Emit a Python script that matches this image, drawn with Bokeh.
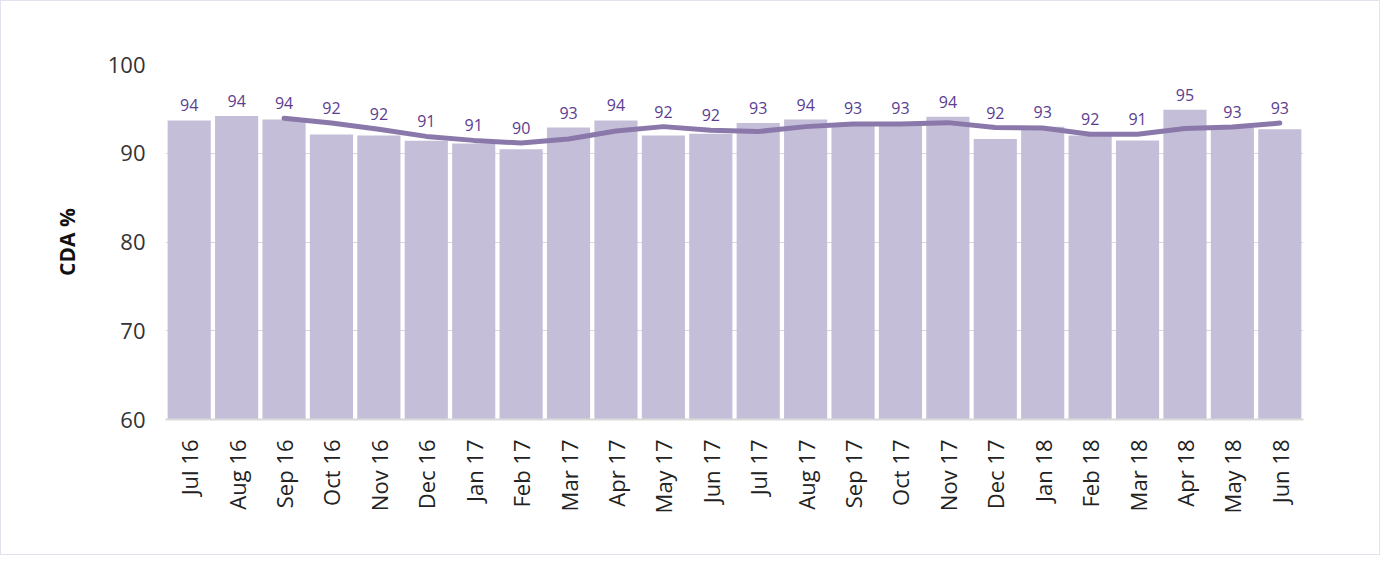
import math
from bokeh.plotting import figure
from bokeh.models import ColumnDataSource, Range1d, FixedTicker
from bokeh.core.properties import value
from bokeh.embed import file_html
from bokeh.resources import INLINE

months = ["Jul 16", "Aug 16", "Sep 16", "Oct 16", "Nov 16", "Dec 16", "Jan 17", "Feb 17",
          "Mar 17", "Apr 17", "May 17", "Jun 17", "Jul 17", "Aug 17", "Sep 17", "Oct 17",
          "Nov 17", "Dec 17", "Jan 18", "Feb 18", "Mar 18", "Apr 18", "May 18", "Jun 18"]
cda = [93.7, 94.2, 93.8, 92.1, 92.0, 91.4, 91.1, 90.45,
       92.9, 93.7, 92.0, 92.2, 93.4, 93.8, 93.4, 93.4,
       94.1, 91.6, 93.0, 92.0, 91.45, 94.9, 92.9, 92.7]
labels = ["94", "94", "94", "92", "92", "91", "91", "90",
          "93", "94", "92", "92", "93", "94", "93", "93",
          "94", "92", "93", "92", "91", "95", "93", "93"]
trend_months = months[2:]
trend = [93.95, 93.4, 92.7, 91.9, 91.45, 91.15, 91.6, 92.5, 93.0, 92.6, 92.45,
         93.0, 93.3, 93.3, 93.45, 92.9, 92.85, 92.15, 92.15, 92.8, 92.95, 93.4]

bar_color = "#c5bed8"
line_color = "#8a78aa"
label_color = "#5b3d8f"
grid_color = "#d9d9d9"
font = "Open Sans"

# label anchor: above whichever is higher, the bar or the trend line
trend_by_month = dict(zip(trend_months, trend))
label_y = [max(v, trend_by_month.get(m, v)) for m, v in zip(months, cda)]

p = figure(x_range=months, y_range=Range1d(60, 100), width=1380, height=555,
           output_backend="svg", toolbar_location=None,
           min_border_left=164, min_border_right=78, min_border_top=63, min_border_bottom=137)
p.outline_line_color = None
p.styles = {"border": "1px solid #e3e0f0"}

src = ColumnDataSource(dict(m=months, v=cda, lab=labels, ly=label_y))
p.vbar(x="m", top="v", bottom=60, width=0.91, source=src, color=bar_color, line_color=None)
p.line(trend_months, trend, line_color=line_color, line_width=5, line_cap="round", line_join="round")
p.text(x="m", y="ly", text="lab", source=src, text_align="center", text_baseline="middle",
       y_offset=-15, text_color=label_color, text_font=value(font), text_font_size="16px")

p.xgrid.grid_line_color = None
p.ygrid.grid_line_color = grid_color
p.ygrid.ticker = FixedTicker(ticks=[70, 80, 90, 100])

p.yaxis.ticker = FixedTicker(ticks=[60, 70, 80, 90, 100])
p.yaxis.axis_line_color = None
p.yaxis.major_tick_line_color = None
p.yaxis.minor_tick_line_color = None
p.yaxis.major_label_text_font = font
p.yaxis.major_label_text_font_size = "22px"
p.yaxis.major_label_text_color = "#333333"
p.yaxis.major_label_standoff = 14
p.yaxis.axis_label = "CDA %"
p.yaxis.axis_label_text_font = font
p.yaxis.axis_label_text_font_style = "bold"
p.yaxis.axis_label_text_font_size = "21px"
p.yaxis.axis_label_text_color = "#111111"
p.yaxis.axis_label_standoff = 24

p.xaxis.axis_line_color = grid_color
p.xaxis.axis_line_width = 2
p.xaxis.major_tick_line_color = None
p.xaxis.minor_tick_line_color = None
p.xaxis.major_label_orientation = math.pi / 2
p.xaxis.major_label_text_font = font
p.xaxis.major_label_text_font_size = "22px"
p.xaxis.major_label_text_color = "#222222"
p.xaxis.major_label_standoff = 14

open("out.html", "w").write(file_html(p, INLINE))
